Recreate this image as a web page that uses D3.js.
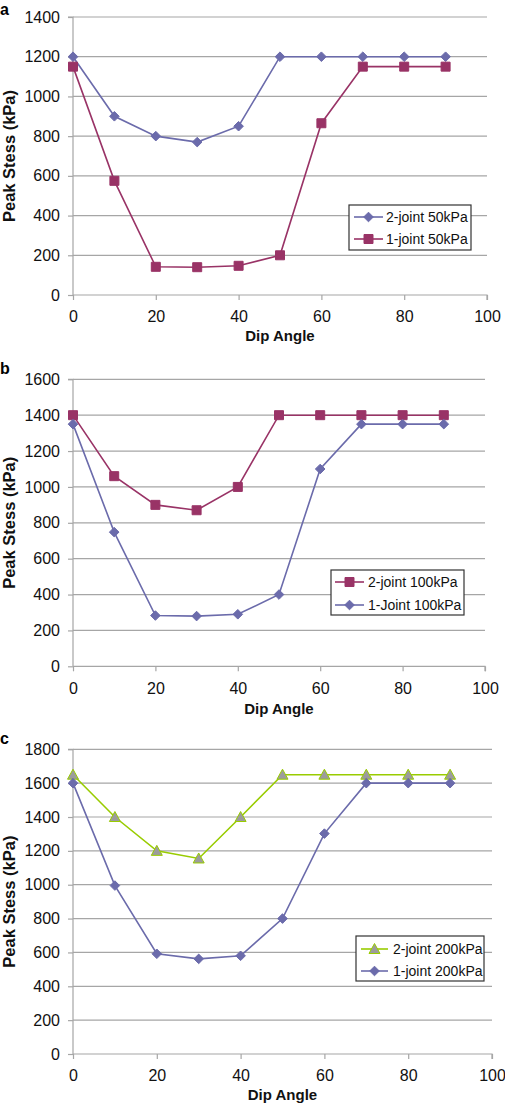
<!DOCTYPE html>
<html>
<head>
<meta charset="utf-8">
<script src="https://cdn.jsdelivr.net/npm/d3@7"></script>
<style>
  html, body { margin: 0; padding: 0; background: #fff; }
  svg { display: block; font-family: "Liberation Sans", Arial, sans-serif; }
</style>
</head>
<body>
<svg id="chart" width="505" height="1106"></svg>
<script>
// ---------- data ----------
const dipAngles = [0, 10, 20, 30, 40, 50, 60, 70, 80, 90];
const xTicks = [0, 20, 40, 60, 80, 100];

// panel a
const a_twoJoint50 = [1200, 900, 800, 770, 850, 1200, 1200, 1200, 1200, 1200];
const a_oneJoint50 = [1150, 575, 142, 140, 147, 200, 865, 1150, 1150, 1150];
const a_yTicks = [0, 200, 400, 600, 800, 1000, 1200, 1400];

// panel b
const b_twoJoint100 = [1400, 1060, 900, 870, 1000, 1400, 1400, 1400, 1400, 1400];
const b_oneJoint100 = [1350, 748, 283, 280, 290, 400, 1100, 1350, 1350, 1350];
const b_yTicks = [0, 200, 400, 600, 800, 1000, 1200, 1400, 1600];

// panel c
const c_twoJoint200 = [1650, 1400, 1200, 1155, 1400, 1650, 1650, 1650, 1650, 1650];
const c_oneJoint200 = [1600, 995, 592, 562, 580, 800, 1302, 1600, 1600, 1600];
const c_yTicks = [0, 200, 400, 600, 800, 1000, 1200, 1400, 1600, 1800];

const labels = {
  a: ["2-joint 50kPa", "1-joint 50kPa"],
  b: ["2-joint 100kPa", "1-Joint 100kPa"],
  c: ["2-joint 200kPa", "1-joint 200kPa"]
};

// ---------- styles ----------
const BLUE = "#6b6bab", MAG = "#993366", GREEN = "#99cc00", TRI_FILL = "#9c9c9c";
const styles = {
  diamond: { stroke: BLUE, fill: BLUE, markerStroke: BLUE },
  square: { stroke: MAG, fill: MAG, markerStroke: MAG },
  triangle: { stroke: GREEN, fill: TRI_FILL, markerStroke: GREEN }
};

const panels = [
  { id: "a", left: 73, right: 487, top: 17, bottom: 295, yMax: 1400, yTicks: a_yTicks,
    series: [
      { name: labels.a[0], values: a_twoJoint50, marker: "diamond" },
      { name: labels.a[1], values: a_oneJoint50, marker: "square" }
    ],
    legend: { x: 349, y: 205, w: 122, h: 45, lineX0: 354, lineX1: 383, textX: 386, rows: [217, 239] },
    labelY: 15, titleY: 341 },
  { id: "b", left: 73, right: 485, top: 379.3, bottom: 666.3, yMax: 1600, yTicks: b_yTicks,
    series: [
      { name: labels.b[0], values: b_twoJoint100, marker: "square" },
      { name: labels.b[1], values: b_oneJoint100, marker: "diamond" }
    ],
    legend: { x: 331, y: 570, w: 133, h: 45, lineX0: 335, lineX1: 364, textX: 368, rows: [582, 605] },
    labelY: 374, titleY: 714 },
  { id: "c", left: 73, right: 492, top: 749.3, bottom: 1054, yMax: 1800, yTicks: c_yTicks,
    series: [
      { name: labels.c[0], values: c_twoJoint200, marker: "triangle" },
      { name: labels.c[1], values: c_oneJoint200, marker: "diamond" }
    ],
    legend: { x: 356, y: 936, w: 128, h: 45, lineX0: 361, lineX1: 388, textX: 393, rows: [949, 971] },
    labelY: 744, titleY: 1100 }
];

function markerPath(type) {
  if (type === "diamond") return "M0,-4.8L4.8,0L0,4.8L-4.8,0Z";
  if (type === "square") return "M-4.5,-4.5H4.5V4.5H-4.5Z";
  return "M0,-5.5L5.5,4.5H-5.5Z";
}

const svg = d3.select("#chart");
const GRID = "#a6a6a6";
const FONT = "'Liberation Sans', Arial, sans-serif";

panels.forEach(p => {
  const x = d3.scaleLinear().domain([0, 100]).range([p.left, p.right]);
  const y = d3.scaleLinear().domain([0, p.yMax]).range([p.bottom, p.top]);
  const g = svg.append("g");

  // gridlines
  g.append("g").selectAll("line").data(p.yTicks.filter(t => t > 0)).join("line")
    .attr("x1", p.left).attr("x2", p.right)
    .attr("y1", d => y(d)).attr("y2", d => y(d))
    .attr("stroke", GRID).attr("stroke-width", 1.2);

  // y axis
  const yAxis = d3.axisLeft(y).tickValues(p.yTicks).tickSize(5).tickPadding(8).tickFormat(d3.format("d"));
  const ya = g.append("g").attr("transform", `translate(${p.left},0)`).call(yAxis);
  ya.select(".domain").attr("stroke", GRID).attr("stroke-width", 1.2).attr("d", `M-5,${p.top}H0V${p.bottom}`);
  ya.selectAll(".tick line").attr("stroke", GRID).attr("stroke-width", 1.2);
  ya.selectAll(".tick text").attr("font-size", 16).attr("fill", "#111").attr("font-family", FONT);

  // x axis
  const xAxis = d3.axisBottom(x).tickValues(xTicks).tickSize(5).tickPadding(11);
  const xa = g.append("g").attr("transform", `translate(0,${p.bottom})`).call(xAxis);
  xa.select(".domain").attr("stroke", GRID).attr("stroke-width", 1.2).attr("d", `M${p.left},0H${p.right}V5`);
  xa.selectAll(".tick line").attr("stroke", GRID).attr("stroke-width", 1.2);
  xa.selectAll(".tick text").attr("font-size", 16).attr("fill", "#111").attr("font-family", FONT);

  // series
  p.series.forEach(s => {
    const st = styles[s.marker];
    const pts = dipAngles.map((d, i) => [d, s.values[i]]);
    g.append("path").datum(pts)
      .attr("d", d3.line().x(d => x(d[0])).y(d => y(d[1])))
      .attr("fill", "none").attr("stroke", st.stroke).attr("stroke-width", 1.6);
    g.append("g").selectAll("path").data(pts).join("path")
      .attr("transform", d => `translate(${x(d[0])},${y(d[1])})`)
      .attr("d", markerPath(s.marker))
      .attr("fill", st.fill).attr("stroke", st.markerStroke).attr("stroke-width", 1);
  });

  // legend
  const L = p.legend;
  const lg = g.append("g");
  lg.append("rect").attr("x", L.x).attr("y", L.y).attr("width", L.w).attr("height", L.h)
    .attr("fill", "#fff").attr("stroke", "#333").attr("stroke-width", 1.2);
  p.series.forEach((s, i) => {
    const st = styles[s.marker];
    const ry = L.rows[i];
    lg.append("line").attr("x1", L.lineX0).attr("x2", L.lineX1).attr("y1", ry).attr("y2", ry)
      .attr("stroke", st.stroke).attr("stroke-width", 1.6);
    lg.append("path").attr("transform", `translate(${(L.lineX0 + L.lineX1) / 2},${ry})`)
      .attr("d", markerPath(s.marker)).attr("fill", st.fill).attr("stroke", st.markerStroke);
    lg.append("text").attr("x", L.textX).attr("y", ry).attr("dy", "0.36em")
      .attr("font-size", 14).attr("fill", "#111").text(s.name);
  });

  // axis titles
  g.append("text").attr("x", (p.left + p.right) / 2).attr("y", p.titleY)
    .attr("text-anchor", "middle").attr("font-weight", "bold").attr("font-size", 15).attr("fill", "#111")
    .text("Dip Angle");
  g.append("text")
    .attr("transform", `translate(14.5,${(p.top + p.bottom) / 2}) rotate(-90)`)
    .attr("text-anchor", "middle").attr("font-weight", "bold").attr("font-size", 16.5).attr("fill", "#111")
    .text("Peak Stess (kPa)");

  // panel label
  g.append("text").attr("x", 0).attr("y", p.labelY)
    .attr("font-weight", "bold").attr("font-size", 16).attr("fill", "#000").text(p.id);
});
</script>
</body>
</html>
